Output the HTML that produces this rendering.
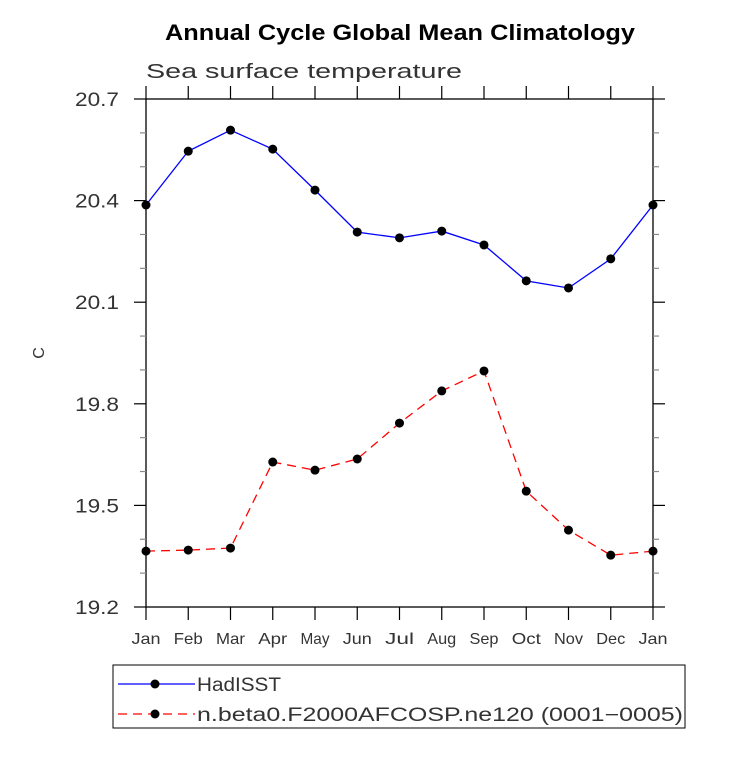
<!DOCTYPE html>
<html><head><meta charset="utf-8"><style>
body{margin:0;background:#fff;}
text{font-family:"Liberation Sans",sans-serif;}
</style></head><body>
<svg width="733" height="754" viewBox="0 0 733 754" xmlns="http://www.w3.org/2000/svg">
<rect width="733" height="754" fill="#fff"/>
<text x="165" y="40" font-size="22" font-weight="bold" textLength="470" lengthAdjust="spacingAndGlyphs">Annual Cycle Global Mean Climatology</text>
<text x="146" y="78" font-size="20" fill="#333" textLength="316" lengthAdjust="spacingAndGlyphs">Sea surface temperature</text>
<text x="44" y="353" font-size="16" fill="#333" transform="rotate(-90 44 353)" text-anchor="middle">C</text>
<g id="axes"></g>
<g id="series"></g>
<g>
<rect x="113" y="665" width="572" height="63" fill="none" stroke="#000" stroke-width="1"/>
<line x1="118" y1="684" x2="195" y2="684" stroke="#00f" stroke-width="1.3"/>
<circle cx="155" cy="684" r="4.5" fill="#000"/>
<text x="197" y="691" font-size="19" fill="#333" textLength="84" lengthAdjust="spacingAndGlyphs">HadISST</text>
<line x1="118" y1="714" x2="195" y2="714" stroke="#f00" stroke-width="1.3" stroke-dasharray="9,6"/>
<circle cx="155" cy="714" r="4.5" fill="#000"/>
<text x="197" y="721" font-size="19" fill="#333" textLength="486" lengthAdjust="spacingAndGlyphs">n.beta0.F2000AFCOSP.ne120 (0001−0005)</text>
</g>
</svg>
<script>
const months=["Jan","Feb","Mar","Apr","May","Jun","Jul","Aug","Sep","Oct","Nov","Dec","Jan"];
const hadisst=[20.387,20.546,20.608,20.552,20.431,20.307,20.290,20.310,20.269,20.163,20.142,20.228,20.387];
const model=[19.365,19.368,19.374,19.628,19.604,19.637,19.743,19.838,19.897,19.542,19.427,19.353,19.365];
const yTicks=["19.2","19.5","19.8","20.1","20.4","20.7"];
const X0=146,X1=653,Y0=607,Y1=99,YMIN=19.2,YMAX=20.7;
const NS="http://www.w3.org/2000/svg";
function xs(i){return X0+(X1-X0)*i/(months.length-1);}
function ys(v){return Y0-(v-YMIN)/(YMAX-YMIN)*(Y0-Y1);}
function mk(t,a,p){const e=document.createElementNS(NS,t);for(const k in a)e.setAttribute(k,a[k]);p.appendChild(e);return e;}
const ax=document.getElementById('axes');
const frame=mk('rect',{x:X0,y:Y1,width:X1-X0,height:Y0-Y1,fill:'none',stroke:'#000','stroke-width':1.3},ax);


months.forEach((m,i)=>{
  const x=xs(i);
  mk('line',{x1:x,y1:Y0,x2:x,y2:Y0+13,stroke:'#000','stroke-width':1.2},ax);
  mk('line',{x1:x,y1:Y1,x2:x,y2:Y1-13,stroke:'#000','stroke-width':1.2},ax);
  const t=mk('text',{x:x,y:Y0+37,'text-anchor':'middle','font-size':16,fill:'#333',textLength:29,lengthAdjust:'spacingAndGlyphs'},ax);
  t.textContent=m;
  
  
});
for(let k=0;k<=15;k++){
  const v=YMIN+k*0.1,y=ys(v),maj=k%3===0,len=maj?12:6;
  mk('line',{x1:X0-len,y1:y,x2:X0,y2:y,stroke:maj?'#000':'#888','stroke-width':1.2},ax);
  mk('line',{x1:X1,y1:y,x2:X1+len,y2:y,stroke:maj?'#000':'#888','stroke-width':1.2},ax);
}
yTicks.forEach(s=>{
  const t=mk('text',{x:75,y:ys(parseFloat(s))+7,'font-size':19,fill:'#333',textLength:44,lengthAdjust:'spacingAndGlyphs'},ax);
  t.textContent=s;
  
  
});
const sg=document.getElementById('series');
function draw(vals,color,dash,name){
  const g=mk('g',{},sg);
  
  
  const pts=vals.map((v,i)=>xs(i)+','+ys(v)).join(' ');
  const a={points:pts,fill:'none',stroke:color,'stroke-width':1.3};
  if(dash)a['stroke-dasharray']=dash;
  mk('polyline',a,g);
  vals.forEach((v,i)=>{
    const c=mk('circle',{cx:xs(i),cy:ys(v),r:4.5,fill:'#000'},g);
    
    
  });
}
draw(hadisst,'#00f',null,'series-hadisst');
draw(model,'#f00','9,6','series-model');
</script>
</body></html>
